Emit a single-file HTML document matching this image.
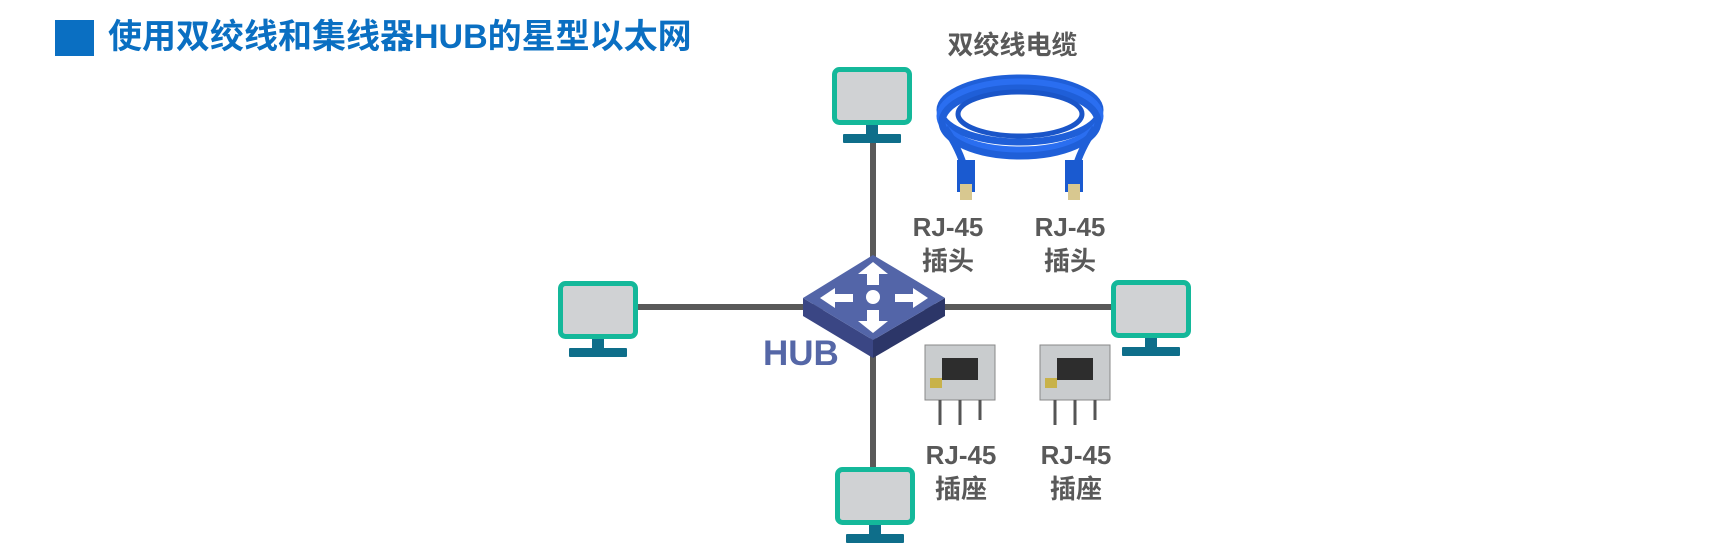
<!DOCTYPE html>
<html><head><meta charset="utf-8"><style>
body{margin:0;width:1714px;height:556px;background:#fff;position:relative;overflow:hidden;font-family:"Liberation Sans","Noto Sans CJK SC",sans-serif}
.t{position:absolute;font-weight:bold;color:#595959;font-size:26px;line-height:34px;text-align:center}
</style></head><body>
<div style="position:absolute;left:55px;top:20px;width:39px;height:36px;background:#0a6fc2"></div>
<div style="position:absolute;left:108px;top:16px;font-size:34px;font-weight:bold;color:#0a6fc2;line-height:42px;white-space:nowrap">使用双绞线和集线器HUB的星型以太网</div>
<svg width="1714" height="556" style="position:absolute;left:0;top:0">
<g stroke="#595959" stroke-width="6">
<line x1="873" y1="140" x2="873" y2="468"/>
<line x1="636" y1="307" x2="1111" y2="307"/>
</g>
<defs><g id="pc">
<rect x="2.5" y="2.5" width="75" height="53" rx="5" fill="#d0d2d4" stroke="#14b89a" stroke-width="5"/>
<rect x="34" y="58" width="12" height="10" fill="#0e6e8a"/>
<rect x="11" y="67" width="58" height="9" rx="1" fill="#0e6e8a"/>
</g></defs>
<use href="#pc" x="832" y="67"/>
<use href="#pc" x="558" y="281"/>
<use href="#pc" x="1111" y="280"/>
<use href="#pc" x="835" y="467"/>
<!-- hub -->
<polygon points="803,298 873,340 873,358 803,316" fill="#3a4684"/>
<polygon points="945,298 873,340 873,358 945,316" fill="#2c3668"/>
<polygon points="873,255 945,298 873,340 803,298" fill="#5365a8"/>
<g fill="#fff">
<circle cx="873" cy="297" r="7"/>
<polygon points="873,262 888,274 879,274 879,285 867,285 867,274 858,274"/>
<polygon points="873,333 888,321 879,321 879,310 867,310 867,321 858,321"/>
<polygon points="820,298 835,288 835,294 853,294 853,302 835,302 835,308"/>
<polygon points="928,298 913,288 913,294 895,294 895,302 913,302 913,308"/>
</g>
<!-- cable -->
<g fill="none" stroke="#1f5fd8" stroke-width="7">
<ellipse cx="1020" cy="110" rx="80" ry="32"/>
<ellipse cx="1020" cy="116" rx="80" ry="34" stroke="#2a6ef0"/>
<ellipse cx="1020" cy="122" rx="78" ry="34"/>
<ellipse cx="1020" cy="114" rx="62" ry="22" stroke="#1a55c8" stroke-width="5"/>
<path d="M945 128 Q960 150 965 170"/>
<path d="M1095 128 Q1080 150 1075 170"/>
</g>
<rect x="957" y="160" width="18" height="32" fill="#1a5ad0"/>
<rect x="1065" y="160" width="18" height="32" fill="#1a5ad0"/>
<rect x="960" y="184" width="12" height="16" fill="#d8c890"/>
<rect x="1068" y="184" width="12" height="16" fill="#d8c890"/>
<!-- jacks -->
<g id="jk">
<rect x="925" y="345" width="70" height="55" fill="#c9ccce" stroke="#888"/>
<rect x="942" y="358" width="36" height="22" fill="#2d2d2d"/>
<rect x="930" y="378" width="12" height="10" fill="#c8b24a"/>
<g stroke="#555" stroke-width="3"><line x1="940" y1="400" x2="940" y2="425"/><line x1="960" y1="400" x2="960" y2="425"/><line x1="980" y1="400" x2="980" y2="420"/></g>
</g>
<use href="#jk" x="115" y="0"/>
</svg>
<div class="t" style="left:930px;top:28px;width:165px">双绞线电缆</div>
<div class="t" style="left:903px;top:210px;width:90px">RJ-45<br>插头</div>
<div class="t" style="left:1025px;top:210px;width:90px">RJ-45<br>插头</div>
<div class="t" style="left:916px;top:438px;width:90px">RJ-45<br>插座</div>
<div class="t" style="left:1031px;top:438px;width:90px">RJ-45<br>插座</div>
<div style="position:absolute;left:763px;top:334px;font-size:35px;font-weight:bold;color:#5567a7">HUB</div>
</body></html>
